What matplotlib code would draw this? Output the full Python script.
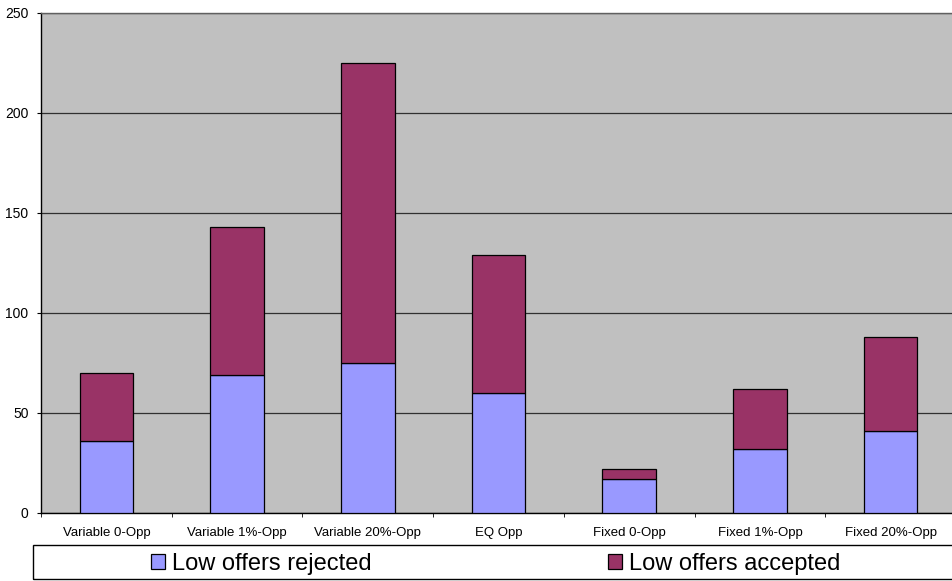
import matplotlib.pyplot as plt
from matplotlib.patches import Rectangle
import numpy as np

plt.rcParams['font.family'] = ['Liberation Sans', 'DejaVu Sans']

# Low offers per treatment
treatments = ['Variable 0-Opp', 'Variable 1%-Opp', 'Variable 20%-Opp', 'EQ Opp',
              'Fixed 0-Opp', 'Fixed 1%-Opp', 'Fixed 20%-Opp']
rejected = [36, 69, 75, 60, 17, 32, 41]
accepted = [34, 74, 150, 69, 5, 30, 47]
y_ticks = [0, 50, 100, 150, 200, 250]

W, H = 952, 581
fig = plt.figure(figsize=(W / 100, H / 100), dpi=100)
ax = fig.add_axes([41 / W, (H - 513) / H, 915 / W, 500 / H])
ax.set_facecolor('#C0C0C0')

x = np.arange(len(treatments))
bw = 0.41
bars_rej = ax.bar(x, rejected, bw, color='#9999FF', edgecolor='black',
                  linewidth=0.9, zorder=3)
bars_acc = ax.bar(x, accepted, bw, bottom=rejected, color='#993366',
                  edgecolor='black', linewidth=0.9, zorder=3)

ax.set_xlim(-0.5, len(treatments) - 0.5)
ax.set_ylim(0, 250)
ax.set_yticks(y_ticks)
ax.yaxis.grid(True, color='#303030', linewidth=0.9, zorder=1)

ax.set_xticks(x)
ax.set_xticklabels(treatments, fontsize=9.5)
ax.set_xticks(np.arange(-0.5, len(treatments), 1.0), minor=True)
ax.tick_params(axis='x', which='major', length=0, pad=10)
ax.tick_params(axis='x', which='minor', length=3, direction='out', color='black')
ax.tick_params(axis='y', length=3, direction='out', labelsize=10, pad=6)

for side in ['left', 'bottom']:
    ax.spines[side].set_color('black')
    ax.spines[side].set_linewidth(1.0)
for side in ['top', 'right']:
    ax.spines[side].set_color('#606060')
    ax.spines[side].set_linewidth(1.0)

# legend box across the bottom
fig.patches.append(Rectangle((33 / W, 2 / H), (W - 33) / W + 0.01, 34 / H,
                             transform=fig.transFigure, fill=False,
                             edgecolor='black', linewidth=1.0))
leg_opts = dict(loc='center left', frameon=False, fontsize=17,
                handlelength=0.6, handleheight=0.6, handletextpad=0.3,
                borderpad=0, borderaxespad=0)
fig.legend([bars_rej], ['Low offers rejected'],
           bbox_to_anchor=(151 / W, 17 / H), **leg_opts)
fig.legend([bars_acc], ['Low offers accepted'],
           bbox_to_anchor=(608 / W, 17 / H), **leg_opts)

fig.savefig('out.png', dpi=100)
